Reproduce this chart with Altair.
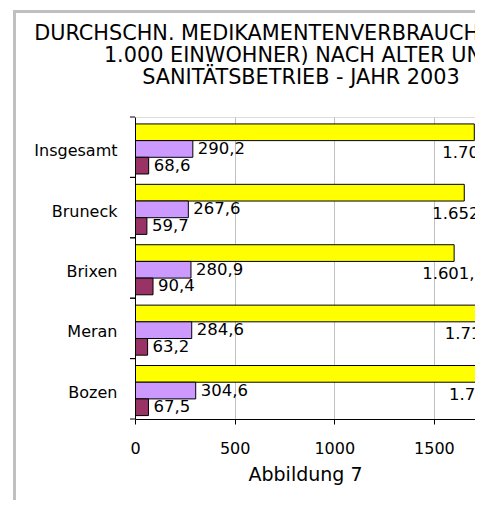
import altair as alt
import pandas as pd

# ---- data ----
categories = ["Insgesamt", "Bruneck", "Brixen", "Meran", "Bozen"]
series = ["65 Jahre und mehr", "15-64 Jahre", "0-14 Jahre"]
values_65plus = [1702.4, 1652.1, 1601.3, 1714.2, 1735.6]
values_15_64 = [290.2, 267.6, 280.9, 284.6, 304.6]
values_0_14 = [68.6, 59.7, 90.4, 63.2, 67.5]
colors = ["#FFFF00", "#CC99FF", "#993366"]
x_ticks = [0, 500, 1000, 1500]
title_lines = [
    "DURCHSCHN. MEDIKAMENTENVERBRAUCH (DDD JE",
    "1.000 EINWOHNER) NACH ALTER UND",
    "SANITÄTSBETRIEB - JAHR 2003",
]
x_title = "Abbildung 7"

FONT = "DejaVu Sans"


def de_format(v):
    s = f"{v:,.1f}"
    return s.replace(",", "X").replace(".", ",").replace("X", ".")


rows = []
for s, vals in zip(series, [values_65plus, values_15_64, values_0_14]):
    for c, v in zip(categories, vals):
        rows.append({"Betrieb": c, "Alter": s, "Wert": v, "Label": de_format(v)})
df = pd.DataFrame(rows)
df_cat = pd.DataFrame({"Betrieb": categories})

x_enc = alt.X(
    "Wert:Q",
    scale=alt.Scale(domain=[0, 1706], nice=False, zero=True),
    axis=alt.Axis(
        values=x_ticks,
        format="d",
        title=x_title,
        titleFont=FONT,
        titleFontSize=19,
        titleFontWeight="normal",
        titleColor="black",
        titlePadding=9,
        labelFont=FONT,
        labelFontSize=16,
        labelColor="black",
        labelPadding=16,
        labelFlush=False,
        tickColor="black",
        tickSize=5,
        domainColor="black",
        grid=True,
        gridColor="#c0c0c0",
    ),
)
y_enc = alt.Y(
    "Betrieb:N",
    sort=categories,
    scale=alt.Scale(paddingInner=0, paddingOuter=0),
    axis=alt.Axis(
        title=None,
        ticks=False,
        labelFont=FONT,
        labelFontSize=16,
        labelColor="black",
        labelPadding=18,
        labelOffset=4,
        domainColor="black",
        zindex=1,
    ),
)
yoff_enc = alt.YOffset(
    "Alter:N",
    sort=series,
    scale=alt.Scale(paddingInner=0, paddingOuter=0.31, align=0.67),
)

bars = alt.Chart(df).mark_bar(stroke="black", strokeWidth=1, clip=True).encode(
    x=x_enc,
    y=y_enc,
    yOffset=yoff_enc,
    color=alt.Color("Alter:N", scale=alt.Scale(domain=series, range=colors), legend=None),
)

small_labels = (
    alt.Chart(df)
    .transform_filter(alt.datum.Alter != series[0])
    .mark_text(align="left", baseline="middle", dx=5, font=FONT, fontSize=16.5, color="black")
    .encode(x="Wert:Q", y=alt.Y("Betrieb:N", sort=categories), yOffset=yoff_enc, text="Label:N")
)

big_labels = (
    alt.Chart(df)
    .transform_filter(alt.datum.Alter == series[0])
    .mark_text(align="left", baseline="middle", dx=-32, dy=21, font=FONT, fontSize=16.5, color="black", clip=True)
    .encode(x="Wert:Q", y=alt.Y("Betrieb:N", sort=categories), yOffset=yoff_enc, text="Label:N")
)

ticks_top = alt.Chart(df_cat).mark_rule(color="black").encode(
    y=alt.Y("Betrieb:N", sort=categories, bandPosition=0), x=alt.value(-5), x2=alt.value(0)
)
ticks_bottom = alt.Chart(df_cat).mark_rule(color="black").encode(
    y=alt.Y("Betrieb:N", sort=categories, bandPosition=1), x=alt.value(-5), x2=alt.value(0)
)

frame = alt.Chart(pd.DataFrame({"f": [0]})).mark_rect(
    fillOpacity=0, stroke="#c0c0c0", strokeWidth=3
).encode(x=alt.value(-120.5), y=alt.value(-105.5), x2=alt.value(800), y2=alt.value(800))

title_layers = []
for i, line in enumerate(title_lines):
    title_layers.append(
        alt.Chart(pd.DataFrame({"t": [line]}))
        .mark_text(font=FONT, fontSize=20.8, color="black", align="center", baseline="middle")
        .encode(text="t:N", x=alt.value(166), y=alt.value(-83 + 22 * i))
    )

chart = (
    alt.layer(frame, *title_layers, bars, small_labels, big_labels, ticks_top, ticks_bottom)
    .properties(
        width=340,
        height=302,
        autosize=alt.AutoSizeParams(type="none"),
        padding={"left": 127, "top": 109, "right": 0, "bottom": 81},
    )
    .configure_view(stroke="#c0c0c0")
    .configure(background="white")
)

chart.save("out.html", embed_options={"renderer": "svg", "actions": False})
